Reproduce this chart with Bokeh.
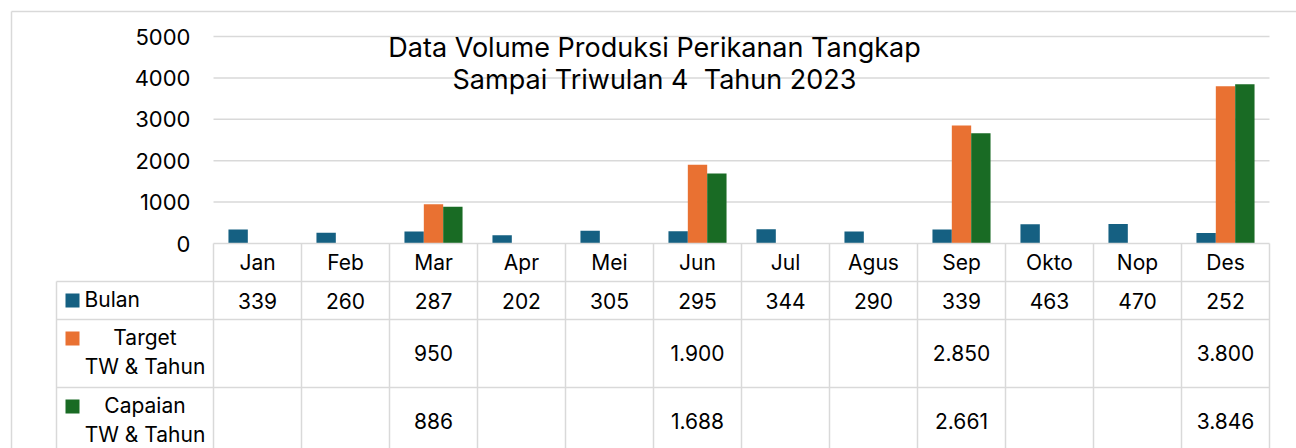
import numpy as np
from bokeh.plotting import figure
from bokeh.models import Range1d, ColumnDataSource
from bokeh.transform import dodge
from bokeh.core.properties import value
from bokeh.embed import file_html
from bokeh.resources import INLINE

# ---------------- data ----------------
months = ["Jan", "Feb", "Mar", "Apr", "Mei", "Jun", "Jul", "Agus", "Sep", "Okto", "Nop", "Des"]
bulan = [339, 260, 287, 202, 305, 295, 344, 290, 339, 463, 470, 252]
target = [None, None, 950, None, None, 1900, None, None, 2850, None, None, 3800]
capaian = [None, None, 886, None, None, 1688, None, None, 2661, None, None, 3846]
y_ticks = [0, 1000, 2000, 3000, 4000, 5000]
series_labels = [["Bulan"], ["Target", "TW & Tahun"], ["Capaian", "TW & Tahun"]]
title_lines = ["Data Volume Produksi Perikanan Tangkap", "Sampai Triwulan 4\u00a0 Tahun 2023"]

# ---------------- style / layout ----------------
FONT = "Inter"
colors = ["#156082", "#E97132", "#196B24"]
GRID = "#D9D9D9"
W, H = 1296, 448
OFF = 0                      # page offset of the canvas
PLOT_L, CAT_W = 213, 88      # page px of left plot edge, width of a category
Y0_PX, YMAX_PX = 243, 36     # page px of value 0 and of value 5000
YMAX = 5000


def X(px):
    return -0.5 + (px - PLOT_L) / CAT_W


def Y(py):
    return (Y0_PX - py) * YMAX / (Y0_PX - YMAX_PX)


p = figure(width=W, height=H, output_backend="svg", toolbar_location=None,
           x_range=Range1d(X(OFF), X(OFF + W)), y_range=Range1d(Y(OFF + H), Y(OFF)),
           x_axis_location=None, y_axis_location=None, min_border=0,
           outline_line_color=None, background_fill_color="white",
           border_fill_color="white")
p.min_border_left = p.min_border_right = p.min_border_top = p.min_border_bottom = 0
for g in p.grid:
    g.visible = False

n = len(months)
xs = np.arange(n)
x_left, x_right = -0.5, n - 0.5

# outer chart border
p.segment(x0=[X(11), X(11)], y0=[Y(11), Y(11)], x1=[X(1400), X(11)], y1=[Y(11), Y(600)],
          line_color=GRID, line_width=1.5)

# horizontal gridlines (above 0)
gt = [t for t in y_ticks if t > 0]
p.segment(x0=[x_left] * len(gt), x1=[x_right] * len(gt), y0=gt, y1=gt,
          line_color=GRID, line_width=1.5)

# y tick labels
p.text(x=[X(190)] * len(y_ticks), y=y_ticks, text=[str(t) for t in y_ticks],
       text_font=value(FONT), text_font_size=value("22px"), text_align="right",
       text_baseline="middle", text_color="black")

# bars
src = ColumnDataSource(dict(
    x=xs,
    bulan=np.array(bulan, dtype=float),
    target=np.array([np.nan if v is None else v for v in target], dtype=float),
    capaian=np.array([np.nan if v is None else v for v in capaian], dtype=float),
))
BW = 0.22
for field, off, c in zip(["bulan", "target", "capaian"], [-BW, 0, BW], colors):
    p.vbar(x=dodge("x", off), top=field, bottom=0, width=BW, source=src,
           fill_color=c, line_color=None)

# ---------------- data table ----------------
row_lines_px = [281, 319, 387, 455]
p.segment(x0=[x_left], x1=[x_right], y0=[0], y1=[0], line_color=GRID, line_width=1.5)
p.segment(x0=[X(56)] * len(row_lines_px), x1=[x_right] * len(row_lines_px),
          y0=[Y(v) for v in row_lines_px], y1=[Y(v) for v in row_lines_px],
          line_color=GRID, line_width=1.5)
vx = [k - 0.5 for k in range(n + 1)]
p.segment(x0=vx, x1=vx, y0=[0] * len(vx), y1=[Y(600)] * len(vx),
          line_color=GRID, line_width=1.5)
p.segment(x0=[X(56)], x1=[X(56)], y0=[Y(281)], y1=[Y(600)], line_color=GRID, line_width=1.5)


def fmt(v):
    return "" if v is None else f"{v:,}".replace(",", ".")


txt = dict(text_font=value(FONT), text_font_size=value("21px"), text_color="black",
           text_align="center", text_baseline="middle")
# category header
p.text(x=xs, y=[Y(262)] * n, text=months, **txt)
# value rows
row_centers_px = [300, 352, 420]
for vals, cy in zip([bulan, target, capaian], row_centers_px):
    p.text(x=xs, y=[Y(cy)] * n, text=[fmt(v) for v in vals], **txt)

# legend column
key_centers_px = [300, 338, 406]
p.rect(x=[X(72)] * 3, y=[Y(v) for v in key_centers_px], width=14, height=14,
       width_units="screen", height_units="screen", fill_color=colors, line_color=None)
p.text(x=[X(84)], y=[Y(299)], text=[series_labels[0][0]],
       **{**txt, "text_align": "left"})
label_line_px = [[337, 366], [405, 434]]
for lines, ys in zip(series_labels[1:], label_line_px):
    p.text(x=[X(144.5)] * 2, y=[Y(v) for v in ys], text=lines, **txt)

# title
p.text(x=[X(654)] * 2, y=[Y(47), Y(79)], text=title_lines, text_font=value(FONT),
       text_font_size=value("27px"), text_color="black", text_align="center",
       text_baseline="middle")

open("out.html", "w").write(file_html(p, INLINE))
